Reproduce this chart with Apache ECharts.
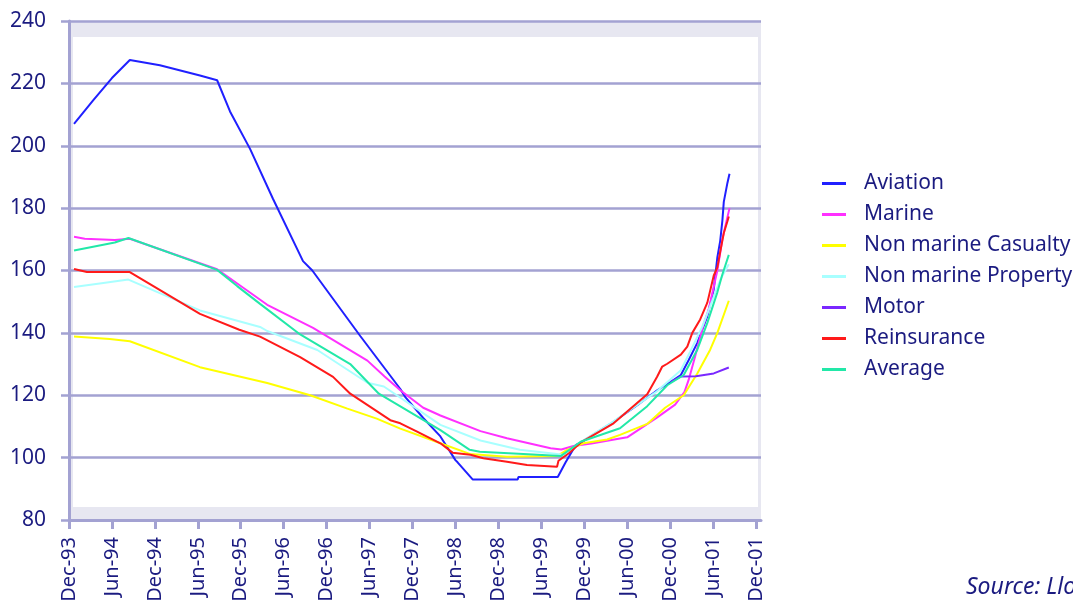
<!DOCTYPE html>
<html><head><meta charset="utf-8">
<script src="https://cdn.jsdelivr.net/npm/echarts@6/dist/echarts.min.js"></script>
<style>html,body{margin:0;padding:0;background:#fff;overflow:hidden}#c{width:1073px;height:602px}</style>
</head><body><div id="c"></div>
<script>
// x = months after Dec-93
const tickMonths = [0,6,12,18,24,30,36,42,48,54,60,66,72,78,84,90,96];
const tickLabels = ['Dec-93','Jun-94','Dec-94','Jun-95','Dec-95','Jun-96','Dec-96','Jun-97','Dec-97','Jun-98','Dec-98','Jun-99','Dec-99','Jun-00','Dec-00','Jun-01','Dec-01'];
const seriesNames = ['Aviation','Marine','Non marine Casualty','Non marine Property','Motor','Reinsurance','Average'];
const seriesColors = ['#2020ff','#ff30ff','#ffff00','#a8ffff','#7a28ff','#ff1a1a','#22e8a8'];

const aviation = [[0.7,207],[3.4,214.6],[6.0,221.7],[8.5,227.5],[12.7,225.8],[18.3,222.5],[20.7,221],[22.5,211],[25.3,199],[28.5,183],[32.7,163],[34.0,160],[40.7,139],[46.3,122],[47.0,119.4],[49.5,112.7],[51.9,106.8],[54.0,99.2],[54.3,98.5],[56.4,93],[62.7,93],[62.8,93.8],[68.3,93.8],[69.4,98.5],[70.8,104],[71.6,105],[76.1,111.5],[79.4,116.8],[82.2,121.6],[84.1,124.3],[85.5,126.5],[86.6,131.3],[87.8,136.8],[89.2,145.4],[90.1,154],[90.6,164.2],[91.0,169.5],[91.3,175.9],[91.5,182],[92.0,188],[92.3,191]];
const marine = [[0.7,170.8],[2.2,170.2],[6.4,169.8],[8.5,170.2],[20.7,160.4],[27.7,149],[34.1,141.6],[41.7,131.1],[44.1,126],[46.3,121.6],[49.5,116],[51.9,113.5],[57.5,108.5],[61.2,106.2],[67.3,103],[68.8,102.6],[70.5,103.7],[73.0,104.5],[78.0,106.5],[82.2,112.9],[84.7,117],[86.0,121],[86.6,125],[87.5,132.5],[88.6,142.2],[89.4,147.6],[90.6,160],[91.3,170],[92.3,180]];
const nonMarineCasualty = [[0.7,138.8],[5.7,138],[8.5,137.3],[18.3,129],[27.7,123.9],[33.7,120],[38.9,115.7],[43.0,112.5],[46.3,109.3],[51.9,104.6],[56.0,101.2],[61.2,100.3],[68.2,100.5],[69.6,102.5],[71.9,104.6],[75.2,105.8],[77.0,107.3],[80.8,110.8],[83.3,116],[85.9,120],[87.8,127],[89.6,134.6],[90.6,140],[92.2,150.3]];
const nonMarineProperty = [[0.7,154.7],[4.8,156],[8.3,157.1],[18.3,147.2],[26.7,141.9],[27.7,140.6],[34.7,134.5],[41.7,124],[44.0,122.8],[51.9,110.5],[57.5,105.5],[63.0,102.5],[69.1,100.9],[71.5,105],[76.0,111.5],[82.0,121],[85.5,128],[86.8,134],[88.5,142],[90.0,151],[91.0,157],[92.2,162]];
const motor = [[84.1,124.3],[85.5,126],[87.6,126.1],[90.1,127],[92.2,128.9]];
const reinsurance = [[0.7,160.5],[2.5,159.5],[8.5,159.5],[18.3,146.1],[23.8,141],[26.7,138.8],[32.3,132.2],[36.9,125.9],[39.3,120.5],[44.9,112],[46.3,111],[48.5,108.5],[51.9,104.6],[53.6,101.6],[56.1,100.9],[57.9,99.8],[61.2,98.7],[64.0,97.6],[68.2,97.1],[68.4,99],[69.9,101.5],[71.6,105],[76.1,111],[80.8,120.3],[82.2,126],[82.9,129.2],[83.6,130.1],[85.5,133],[86.4,135.6],[87.1,140],[88.2,144.3],[89.2,149.7],[90.1,158.4],[90.6,161],[91.0,166],[91.5,172],[92.0,175.7],[92.2,177.3]];
const average = [[0.7,166.4],[6.4,169],[8.3,170.4],[20.7,160.2],[23.5,155],[26.7,149.3],[32.3,139.5],[39.3,130],[43.3,120.5],[51.9,108.8],[56.0,102.5],[57.4,101.9],[63.5,101.2],[68.7,100.5],[71.5,105.1],[77.0,109.4],[80.8,116.5],[83.6,123.2],[85.9,126.5],[87.8,134.6],[89.2,143.2],[90.6,153],[91.3,158.7],[92.2,165]];
const seriesData = [aviation, marine, nonMarineCasualty, nonMarineProperty, motor, reinsurance, average];

const TXT = '#1b1b80';
const GRIDC = '#a3a2d2';
const FONT = 'Noto Sans';

const chart = echarts.init(document.getElementById('c'), null, {renderer: 'canvas'});
chart.setOption({
  animation: false,
  backgroundColor: '#ffffff',
  grid: [
    {left: 69, top: 21, right: 312, bottom: 82, show: true, backgroundColor: '#e7e7f1', borderWidth: 0, z: -2, containLabel: false, outerBoundsMode: 'none'},
    {left: 73, top: 37, right: 315, bottom: 95, show: true, backgroundColor: '#ffffff', borderWidth: 0, z: -1, containLabel: false, outerBoundsMode: 'none'}
  ],
  xAxis: [
    {type: 'value', gridIndex: 0, min: 0, max: 96.7,
     axisLine: {show: true, onZero: false, lineStyle: {color: GRIDC, width: 3}},
     axisTick: {show: true, customValues: tickMonths, length: 9, lineStyle: {color: GRIDC, width: 3}},
     axisLabel: {customValues: tickMonths, rotate: 90, margin: 17, color: TXT, fontFamily: FONT, fontSize: 20,
       formatter: v => { const i = tickMonths.indexOf(Math.round(v)); return i >= 0 ? tickLabels[i] : ''; }},
     splitLine: {show: false}},
    {type: 'value', gridIndex: 1, show: false, min: 0, max: 1}
  ],
  yAxis: [
    {type: 'value', gridIndex: 0, min: 80, max: 240, interval: 20,
     axisLine: {show: true, onZero: false, lineStyle: {color: GRIDC, width: 3}},
     axisTick: {show: true, length: 8, lineStyle: {color: GRIDC, width: 2.5}},
     axisLabel: {margin: 23, color: TXT, fontFamily: FONT, fontSize: 21},
     splitLine: {show: true, lineStyle: {color: GRIDC, width: 2.5}}},
    {type: 'value', gridIndex: 1, show: false, min: 0, max: 1}
  ],
  legend: {
    orient: 'vertical', left: 817, top: 168, itemWidth: 24, itemHeight: 3, itemGap: 10,
    icon: 'rect',
    textStyle: {color: TXT, fontFamily: FONT, fontSize: 21, lineHeight: 21, padding: [0, 0, 0, 13]},
    data: seriesNames
  },
  graphic: [
    {type: 'text', left: 966, top: 576, style: {text: "Source: Lloyd's", fill: TXT, font: 'italic 23px "Noto Sans"'}}
  ],
  series: seriesNames.map((n, i) => ({
    name: n, type: 'line', xAxisIndex: 0, yAxisIndex: 0,
    data: seriesData[i], showSymbol: false, symbol: 'none',
    lineStyle: {color: seriesColors[i], width: 2},
    itemStyle: {color: seriesColors[i]}
  }))
});
</script></body></html>
